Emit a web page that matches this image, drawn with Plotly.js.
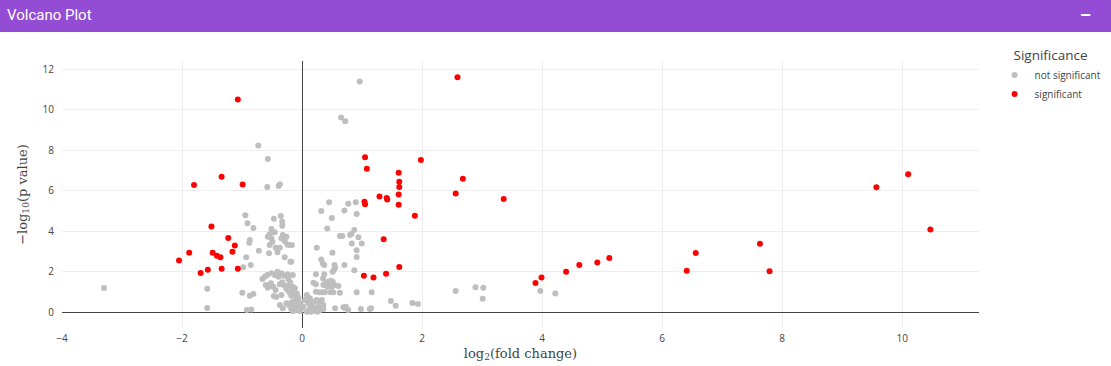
<!DOCTYPE html>
<html>
<head>
<meta charset="utf-8">
<script src="https://cdn.plot.ly/plotly-3.0.1.min.js"></script>
<style>
  html, body { margin: 0; padding: 0; background: #fff; width: 1111px; height: 366px; overflow: hidden; }
  #header { height: 32px; background: #944cd4; color: #fff; font-family: Roboto, "Noto Sans", sans-serif;
            font-size: 15px; line-height: 30px; padding-left: 7px; position: relative; }
  #header .btn { position: absolute; right: 20px; top: 0; font-size: 18px; font-weight: bold; }
  #chart { width: 1111px; height: 334px; }
</style>
</head>
<body>
<div id="header">Volcano Plot<span class="btn">&#8211;</span></div>
<div id="chart"></div>
<script>
// log2 fold change / -log10 p for significant genes
const sigX = [-1.07, -1.34, -1.80, -0.99, -1.51, -1.23, -1.12, -1.16, -1.88, -1.49, -1.42, -1.36, -2.05, -1.57, -1.34, -1.07, -1.69,
  2.59, 1.05, 1.08, 1.98, 1.61, 1.62, 1.62, 2.68, 2.56, 1.61, 1.29, 1.41, 1.42, 3.36, 1.04, 1.05, 1.61, 1.88, 1.36, 1.62, 1.03, 1.19, 1.40,
  3.89, 3.99, 4.40, 4.62, 4.92, 5.12, 6.41, 6.56, 7.63, 7.79, 9.57, 10.10, 10.47];
const sigY = [10.50, 6.68, 6.27, 6.30, 4.23, 3.65, 3.29, 2.98, 2.93, 2.93, 2.78, 2.70, 2.55, 2.09, 2.14, 2.14, 1.93,
  11.60, 7.64, 7.08, 7.51, 6.88, 6.44, 6.17, 6.58, 5.86, 5.80, 5.71, 5.63, 5.56, 5.58, 5.45, 5.32, 5.30, 4.76, 3.60, 2.22, 1.79, 1.71, 1.89,
  1.43, 1.70, 1.99, 2.32, 2.45, 2.67, 2.04, 2.91, 3.37, 2.01, 6.16, 6.80, 4.08];

// not significant genes
const nsX = [0.96, 0.65, 0.72, -0.73, -0.57, -0.58, -0.39, -0.37, -3.30, -1.58, -1.58, 3.97, 4.22, 2.56, 2.89, 3.02, 3.01, 1.48, 1.56, 1.84, 1.93,
  0.45, 0.32, 0.705, 0.77, 0.895, 0.91, 0.495, 0.42, 0.63, 0.67, 0.80, 0.82, 0.87, 0.94, 0.83, 0.995, 0.91, 0.91, 0.245, 0.505, 0.32, 0.345, 0.37, 0.54, 0.55, 0.53, 0.51, 0.705, 0.87,
  0.23, 0.19, 0.37, 0.355, 0.395, 0.44, 0.48, 0.51, 0.54, 0.495, 0.42, 0.605, 0.63, 0.23, 0.29, 0.33, 0.38, 0.47, 0.52, 0.91, 1.16, 1.15, 0.23, 0.35,
  0.08, 0.13, 0.105, 0.16, 0.20, 0.245, 0.29, 0.33, 0.355, 0.27, 0.22, 0.30, 0.13, 0.05, 0.02, 0.08, 0.145, 0.20, 0.255, 0.355, 0.55, 0.72, 0.77, 0.98, 1.13, 0.69, 0.73,
  -0.945, -0.91, -0.81, -0.47, -0.355, -0.33, -0.33, -0.51, -0.54, -0.57, -0.51, -0.455, -0.495, -0.54, -0.44, -0.37, -0.345, -0.32, -0.26, -0.29, -0.245, -0.22, -0.55, -0.41, -0.29, -0.195, -0.72, -0.93, -0.855, -0.87, -0.88, -0.98,
  -0.66, -0.62, -0.58, -0.51, -0.455, -0.41, -0.39, -0.345, -0.30, -0.245, -0.23, -0.20, -0.17, -0.145, -0.12, -0.08, -0.605, -0.57, -0.52, -0.48, -0.44, -0.37, -0.33, -0.29, -0.26, -0.22, -0.18, -0.345, -0.37, -0.32, -0.26, -0.22, -0.18, -0.15, -0.095, -0.055, -0.01, -0.995, -0.87, -0.81, -0.92, -0.845, -0.47, -0.43,
  -0.17, -0.18, -0.155, -0.20, -0.155, -0.12, -0.17, -0.13, -0.09, -0.06, -0.10, -0.155, -0.20, -0.12, -0.06, -0.03, -0.145, -0.09, -0.03, -0.005];
const nsY = [11.39, 9.61, 9.42, 8.23, 7.56, 6.17, 6.22, 6.31, 1.19, 1.15, 0.20, 1.04, 0.92, 1.04, 1.22, 1.20, 0.66, 0.54, 0.31, 0.44, 0.40,
  5.42, 4.99, 5.02, 5.35, 5.42, 4.84, 4.64, 4.13, 3.75, 3.75, 3.80, 3.85, 4.05, 3.69, 3.39, 3.39, 3.05, 2.72, 3.18, 2.93, 2.60, 2.40, 2.32, 2.32, 2.19, 2.07, 1.99, 2.32, 2.06,
  1.86, 1.45, 1.86, 1.33, 1.42, 1.50, 1.55, 1.50, 1.33, 1.25, 1.25, 1.28, 0.95, 1.00, 0.97, 0.97, 0.97, 0.97, 0.97, 0.97, 0.97, 0.18, 1.37, 1.66,
  0.84, 0.68, 0.43, 0.35, 0.51, 0.59, 0.43, 0.59, 0.35, 0.26, 0.18, 0.10, 0.18, 0.59, 0.26, 0.01, 0.01, 0.05, 0.01, 0.15, 0.18, 0.18, 0.10, 0.15, 0.15, 0.23, 0.26,
  4.78, 4.38, 4.15, 4.61, 4.74, 4.46, 4.26, 4.10, 3.84, 3.72, 3.64, 3.94, 3.47, 3.31, 3.18, 3.18, 3.64, 3.80, 3.72, 3.51, 3.34, 3.31, 2.90, 2.95, 2.70, 2.48, 3.03, 2.70, 2.32, 3.56, 3.42, 2.21,
  1.63, 1.74, 1.83, 1.91, 1.83, 1.99, 1.74, 1.91, 1.79, 1.86, 1.63, 1.47, 1.25, 1.09, 0.92, 0.80, 1.33, 1.20, 1.42, 1.25, 1.09, 1.37, 1.47, 1.30, 1.14, 1.00, 0.80, 0.84, 0.35, 0.18, 0.43, 0.35, 0.15, 0.05, 0.35, 0.18, 0.26, 0.95, 0.80, 0.89, 0.10, 0.13, 0.79, 0.74,
  3.31, 2.48, 1.83, 1.33, 1.25, 1.17, 1.00, 0.84, 0.92, 0.68, 0.59, 0.51, 0.43, 0.35, 0.26, 0.05, 0.18, 0.10, 0.43, 0.18];

const xTicks = [-4, -2, 0, 2, 4, 6, 8, 10];
const yTicks = [0, 2, 4, 6, 8, 10, 12];

const traces = [
  { type: 'scatter', mode: 'markers', name: 'not significant', x: nsX, y: nsY,
    marker: { color: 'rgb(190,190,190)', size: 6 } },
  { type: 'scatter', mode: 'markers', name: 'significant', x: sigX, y: sigY,
    marker: { color: 'rgb(255,0,0)', size: 6 } }
];

const layout = {
  width: 1111, height: 334,
  margin: { l: 62, r: 132, t: 29, b: 38, autoexpand: false },
  paper_bgcolor: '#fff', plot_bgcolor: '#fff',
  font: { family: '"Open Sans", sans-serif', color: '#444', size: 10 },
  showlegend: true,
  legend: { title: { text: 'Significance', side: 'top center', font: { size: 13.5, color: '#444' } }, font: { size: 10, color: '#444' },
            x: 1.017, y: 1.068, xanchor: 'left', yanchor: 'top', tracegroupgap: 0 },
  xaxis: { range: [-4, 11.28], tickvals: xTicks, ticktext: xTicks.map(v => v < 0 ? '\u2212' + Math.abs(v) : String(v)),
           showgrid: true, gridcolor: '#eee', zeroline: true, zerolinecolor: '#444', zerolinewidth: 1, showline: false,
           ticks: 'outside', ticklen: 1, tickcolor: 'rgba(0,0,0,0)',
           title: { text: 'log<sub>2</sub>(fold change)', font: { family: '"DejaVu Serif", "Liberation Serif", serif', size: 13, color: '#444' }, standoff: 4 } },
  yaxis: { range: [-0.79, 12.4], tickvals: yTicks, showgrid: true, gridcolor: '#eee', zeroline: true, zerolinecolor: '#444', zerolinewidth: 1, showline: false,
           ticks: 'outside', ticklen: 5, tickcolor: 'rgba(0,0,0,0)',
           title: { text: '\u2212log<sub>10</sub>(p value)', font: { family: '"DejaVu Serif", "Liberation Serif", serif', size: 13, color: '#444' }, standoff: 12 } }
};

Plotly.newPlot('chart', traces, layout, { displayModeBar: false });
</script>
</body>
</html>
